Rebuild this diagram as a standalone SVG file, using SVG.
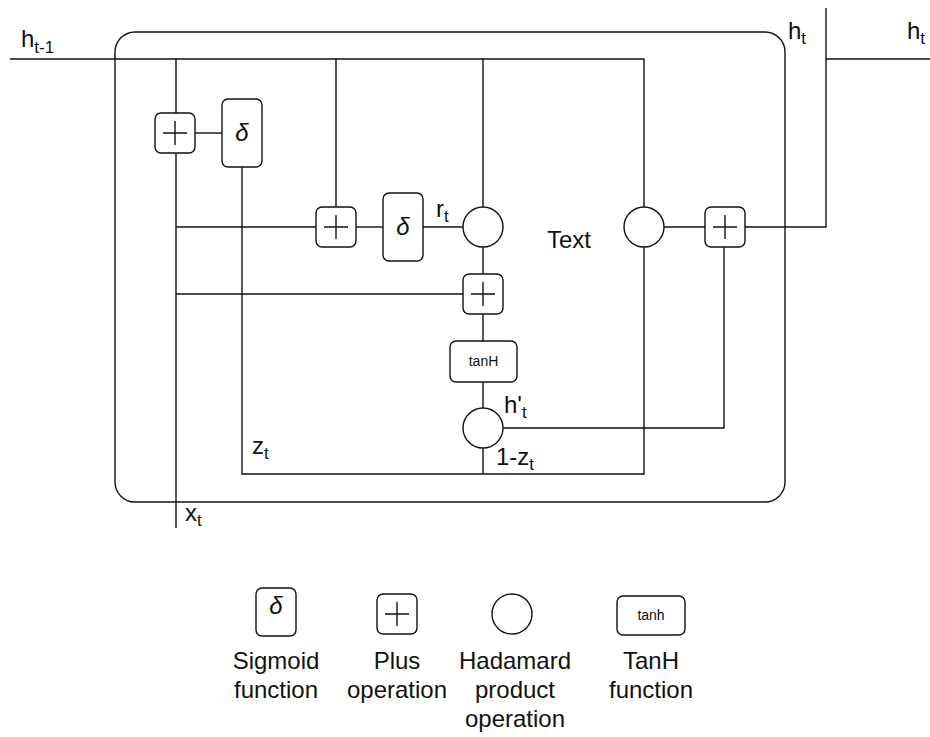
<svg xmlns="http://www.w3.org/2000/svg" width="930" height="737" viewBox="0 0 930 737">
<style>
.ln{fill:none;stroke:#111;stroke-width:1.4}
.bx{fill:#fff;stroke:#111;stroke-width:1.4}
.t{font-family:"Liberation Sans",Arial,sans-serif;font-size:24px;fill:#111}
.s{font-size:17px}
.sg{font-family:"Liberation Sans",Arial,sans-serif;font-style:italic;font-size:24px;fill:#111}
.sm{font-family:"Liberation Sans",Arial,sans-serif;font-size:14px;fill:#111}
</style>
<defs>
<g id="plus"><rect class="bx" x="0" y="0" width="40" height="40" rx="6"/><path class="ln" d="M8 20H32M20 8V32"/></g>
<g id="sig"><rect class="bx" x="0" y="0" width="40" height="68" rx="6"/><text class="sg" x="20" y="42" text-anchor="middle">δ</text></g>
</defs>
<rect id="cell" class="ln" x="115" y="32" width="670" height="470" rx="20" stroke-width="1.6"/>
<g id="connectors">
<path class="ln" d="M10 59H644V207"/>
<path class="ln" d="M176 59V528"/>
<path class="ln" d="M336 59V207"/>
<path class="ln" d="M483 59V207"/>
<path class="ln" d="M195 133H222"/>
<path class="ln" d="M242 167V474H644V247"/>
<path class="ln" d="M176 227H316"/>
<path class="ln" d="M356 227H383"/>
<path class="ln" d="M423 227H463"/>
<path class="ln" d="M176 294H463"/>
<path class="ln" d="M483 247V274"/>
<path class="ln" d="M483 314V341"/>
<path class="ln" d="M483 382V408"/>
<path class="ln" d="M483 448V474"/>
<path class="ln" d="M503 428H724V247"/>
<path class="ln" d="M664 227H705"/>
<path class="ln" d="M745 227H826V8"/>
<path class="ln" d="M826 59H930"/>
</g>
<g id="plus1"><use href="#plus" x="155" y="113"/></g>
<g id="sigma1"><use href="#sig" x="222" y="99"/></g>
<g id="plus2"><use href="#plus" x="316" y="207"/></g>
<g id="sigma2"><use href="#sig" x="383" y="193"/></g>
<g id="had1"><circle class="bx" cx="483" cy="227" r="20"/></g>
<g id="plus3"><use href="#plus" x="463" y="274"/></g>
<g id="tanh1"><rect class="bx" x="450" y="341" width="67" height="41" rx="6"/><text class="sm" x="483.5" y="366" text-anchor="middle">tanH</text></g>
<g id="had2"><circle class="bx" cx="483" cy="428" r="20"/></g>
<g id="had3"><circle class="bx" cx="644" cy="227" r="20"/></g>
<g id="plus4"><use href="#plus" x="705" y="207"/></g>
<g id="labels">
<text class="t" x="21" y="47">h<tspan class="s" dy="6">t-1</tspan></text>
<text class="t" x="788" y="39">h<tspan class="s" dy="5">t</tspan></text>
<text class="t" x="907" y="39">h<tspan class="s" dy="5">t</tspan></text>
<text class="t" x="436" y="217">r<tspan class="s" dy="5">t</tspan></text>
<text class="t" x="547" y="248">Text</text>
<text class="t" x="504" y="413">h'<tspan class="s" dy="5">t</tspan></text>
<text class="t" x="496" y="465">1-z<tspan class="s" dy="5">t</tspan></text>
<text class="t" x="252" y="454">z<tspan class="s" dy="5">t</tspan></text>
<text class="t" x="185" y="521">x<tspan class="s" dy="5">t</tspan></text>
</g>
<g id="legend-sigmoid"><rect class="bx" x="256" y="588" width="40" height="48" rx="6"/><text class="sg" x="276" y="614" text-anchor="middle" font-size="20">δ</text>
<text class="t" x="276" y="669" text-anchor="middle">Sigmoid</text><text class="t" x="276" y="698" text-anchor="middle">function</text></g>
<g id="legend-plus"><use href="#plus" x="377" y="594"/>
<text class="t" x="397" y="669" text-anchor="middle">Plus</text><text class="t" x="397" y="698" text-anchor="middle">operation</text></g>
<g id="legend-had"><circle class="bx" cx="512" cy="614" r="20"/>
<text class="t" x="515" y="669" text-anchor="middle">Hadamard</text><text class="t" x="515" y="698" text-anchor="middle">product</text><text class="t" x="515" y="727" text-anchor="middle">operation</text></g>
<g id="legend-tanh"><rect class="bx" x="617" y="596" width="68" height="39" rx="6"/><text class="sm" x="651" y="620" text-anchor="middle">tanh</text>
<text class="t" x="651" y="669" text-anchor="middle">TanH</text><text class="t" x="651" y="698" text-anchor="middle">function</text></g>
</svg>
